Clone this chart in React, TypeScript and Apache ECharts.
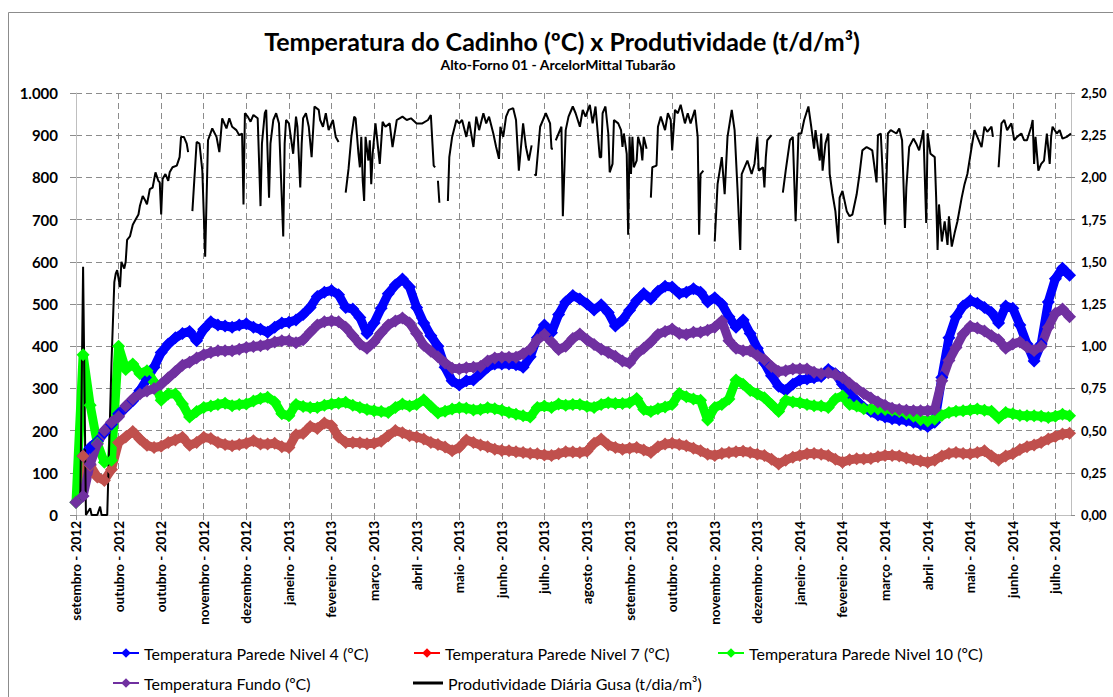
import React, { useEffect, useRef } from 'react';
import * as echarts from 'echarts';

// ---- axis / time base ----
const START_YEAR = 2012;
const START_MONTH = 8; // setembro (0-based)
const START_DAY = 1;
const NUM_DAYS = 702; // days 0..701
const LABEL_EVERY = 30; // Excel date axis: a label every 30 days
const MONTHS = ['janeiro', 'fevereiro', 'março', 'abril', 'maio', 'junho', 'julho', 'agosto', 'setembro', 'outubro', 'novembro', 'dezembro'];
const LEFT_TICKS = [0, 100, 200, 300, 400, 500, 600, 700, 800, 900, 1000];
const RIGHT_TICKS = [0, 0.25, 0.5, 0.75, 1, 1.25, 1.5, 1.75, 2, 2.25, 2.5];

// ---- temperature series, one reading every 5 days from day 0 ----
const TEMP_STEP = 5;
const nivel4 = [
  30, 140, 160, 175, 195, 215, 240, 255, 271, 295,
  322, 350, 385, 405, 420, 430, 435, 413, 440, 458,
  450, 448, 445, 450, 453, 445, 440, 433, 445, 455,
  457, 462, 475, 492, 518, 528, 532, 522, 492, 488,
  468, 430, 455, 490, 524, 545, 559, 540, 492, 455,
  425, 400, 350, 318, 308, 318, 320, 335, 350, 358,
  358, 358, 356, 350, 375, 420, 450, 432, 475, 505,
  520, 512, 500, 486, 498, 480, 448, 462, 485, 508,
  525, 512, 530, 542, 540, 525, 528, 536, 528, 505,
  515, 500, 470, 445, 462, 430, 395, 360, 330, 305,
  295, 310, 320, 322, 325, 328, 345, 335, 310, 288,
  270, 255, 245, 237, 232, 228, 226, 224, 220, 215,
  210, 220, 326, 420, 470, 495, 508, 502, 492, 480,
  455, 495, 490, 450, 405, 365, 405, 505, 560, 585,
  568,
];
const nivel7 = [
  30, 140, 118, 90, 82, 108, 172, 185, 198, 180,
  165, 160, 163, 172, 178, 184, 165, 172, 184, 181,
  172, 167, 164, 167, 170, 176, 168, 168, 170, 162,
  160, 190, 193, 210, 205, 218, 212, 185, 172, 172,
  171, 169, 170, 175, 188, 200, 195, 188, 185, 180,
  172, 167, 161, 152, 160, 178, 172, 166, 162, 156,
  153, 152, 150, 148, 146, 145, 142, 141, 145, 150,
  149, 148, 151, 170, 180, 166, 160, 156, 158, 160,
  154, 148, 162, 168, 170, 167, 164, 158, 152, 144,
  141, 146, 148, 150, 151, 148, 144, 141, 132, 121,
  130, 137, 141, 145, 146, 144, 141, 132, 125, 131,
  133, 133, 134, 138, 141, 141, 140, 135, 131, 128,
  125, 130, 140, 146, 148, 146, 145, 148, 152, 140,
  130, 140, 145, 155, 162, 166, 172, 180, 186, 192,
  194,
];
const nivel10 = [
  30, 380, 260, 170, 125, 130, 400, 345, 358, 335,
  342, 315, 272, 287, 287, 263, 232, 245, 255, 258,
  262, 265, 259, 262, 263, 270, 276, 279, 268, 240,
  235, 262, 257, 255, 255, 260, 263, 265, 267, 260,
  255, 250, 247, 245, 243, 255, 263, 258, 262, 273,
  257, 242, 246, 251, 254, 253, 249, 250, 254, 252,
  248, 243, 239, 235, 232, 255, 258, 255, 263, 260,
  262, 262, 257, 255, 262, 266, 264, 264, 266, 276,
  250, 245, 252, 256, 262, 288, 280, 275, 272, 225,
  255, 262, 275, 320, 310, 295, 287, 278, 262, 245,
  272, 268, 266, 262, 259, 258, 255, 275, 282, 262,
  258, 252, 251, 251, 250, 248, 245, 240, 234, 226,
  223, 227, 236, 243, 246, 247, 249, 251, 248, 246,
  230, 243, 240, 236, 235, 235, 234, 231, 234, 239,
  235,
];
const fundo = [
  30, 45, 120, 168, 200, 220, 233, 258, 275, 287,
  294, 300, 310, 325, 340, 355, 362, 372, 380, 385,
  389, 389, 389, 393, 397, 399, 401, 404, 410, 413,
  413, 408, 415, 433, 450, 458, 460, 458, 445, 425,
  405, 395, 410, 432, 450, 460, 467, 455, 430, 402,
  388, 375, 360, 348, 346, 349, 350, 352, 365, 372,
  374, 374, 374, 382, 392, 415, 428, 410, 392, 400,
  418, 429, 415, 404, 393, 385, 376, 365, 360, 382,
  395, 410, 428, 435, 441, 430, 428, 433, 433, 438,
  445, 460, 413, 395, 389, 389, 378, 368, 352, 340,
  342, 346, 346, 346, 338, 335, 337, 333, 326, 312,
  299, 288, 277, 268, 260, 253, 250, 248, 247, 247,
  247, 250, 318, 366, 397, 429, 447, 443, 436, 425,
  415, 395, 405, 410, 398, 390, 400, 445, 478, 488,
  470,
];

// ---- daily productivity [day, t/dia/m³]; null = no reading (line break) ----
const produtividade: [number, number | null][] = [
  [3, 0.08], [5, 1.47], [7, 0], [10, 0.04], [11, 0], [15, 0], [17, 0.05], [18, 0], [22, 0], [25, 0.9],
  [27, 1.38], [28, 1.43], [29, 1.45], [31, 1.35], [32, 1.5], [34, 1.46], [35, 1.5], [36, 1.63], [38, 1.65], [40, 1.72],
  [42, 1.75], [44, 1.78], [45, 1.83], [47, 1.89], [49, 1.86], [50, 1.84], [52, 1.93], [54, 1.94], [56, 2.03], [58, 1.98],
  [59, 1.97], [60, 1.78], [61, 1.99], [63, 2.02], [65, 1.98], [66, 2.03], [68, 2.06], [71, 2.07], [73, 2.12], [74, 2.24],
  [76, 2.24], [78, 2.2], [79, 2.15], [80, null],
  [82, 1.8], [85, 2.21], [87, 2.2], [89, 2.04], [91, 1.53], [93, 2.22], [96, 2.29], [99, 2.24], [101, 2.15], [103, 2.35],
  [106, 2.29], [108, 2.35], [110, 2.3], [113, 2.28], [115, 2.25], [117, 2.26], [118, 1.84], [119, 2.38], [121, 2.36], [123, 2.33],
  [125, 2.37], [128, 2.35], [130, 1.83], [131, 2.2], [133, 2.38], [134, 2.4], [136, 1.88], [137, 2.2], [139, 2.34], [141, 2.38],
  [143, 2.32], [146, 1.65], [147, 2.2], [148, 2.34], [150, 2.32], [153, 2.14], [155, 2.36], [156, 2.3], [158, 1.94], [159, 2.2],
  [160, 2.35], [162, 2.38], [164, 2.3], [166, 2.12], [168, 2.42], [171, 2.4], [172, 2.34], [174, 2.3], [176, 2.38], [178, 2.28],
  [181, 2.34], [183, 2.24], [185, 2.21], [187, null],
  [190, 1.91], [192, 2.05], [194, 2.24], [196, 2.36], [197, 2.35], [199, 2.14], [200, 2.06], [201, 2.24], [202, 1.98], [203, 1.86],
  [204, 2.24], [206, 2.1], [207, 2.22], [208, 1.96], [209, 2.14], [211, 2.32], [214, 2.08], [216, 2.33], [218, 2.3], [221, 2.32],
  [223, 2.18], [226, 2.34], [228, 2.35], [230, 2.36], [233, 2.34], [236, 2.35], [240, 2.32], [244, 2.32], [248, 2.34], [250, 2.37],
  [252, 2.07], [253, 2.06], [254, null], [255, 1.98], [256, 1.85], [258, null],
  [262, 1.86], [263, 2.12], [265, 2.24], [268, 2.34], [270, 2.32], [272, 2.34], [275, 2.24], [277, 2.33], [280, 2.18], [282, 2.36],
  [284, 2.28], [287, 2.38], [289, 2.32], [291, 2.36], [294, 2.26], [296, 2.18], [298, 2.11], [299, 2.3], [301, 2.24], [303, 2.36],
  [305, 2.4], [308, 2.41], [310, 2.34], [312, 2.04], [315, 2.32], [317, 2.18], [319, 2.1], [321, 2.19], [322, null],
  [323, 2.02], [324, 2.01], [327, 2.3], [329, 2.34], [331, 2.38], [334, 2.32], [335, 2.17], [336, 2.17], [337, null],
  [338, 2.22], [340, 2.26], [342, 2.3], [343, 1.77], [345, 2.28], [347, 2.36], [348, 2.38], [350, 2.42], [352, 2.38], [355, 2.3],
  [357, 2.4], [359, 2.36], [362, 2.43], [364, 2.32], [366, 2.42], [369, 2.12], [370, 2.12], [371, 2.38], [373, 2.42], [375, 2.26],
  [376, 2.03], [378, 2.08], [379, 2.34], [382, 2.32], [384, 2.28], [385, 2.18], [386, 2.26], [388, 2.14], [389, 1.66], [390, 2.24],
  [391, 2.02], [392, 2.24], [393, 2.06], [395, 2.1], [396, 2.24], [398, 2.18], [399, 2.1], [400, 2.24], [402, 2.17], [403, null],
  [405, 1.88], [406, 2.06], [409, 2.07], [410, 2.3], [412, 2.36], [415, 2.28], [417, 2.38], [419, 2.34], [420, 2.16], [422, 2.4],
  [424, 2.38], [426, 2.43], [429, 2.32], [431, 2.38], [433, 2.32], [436, 2.4], [438, 2.24], [439, 1.66], [440, 2.02], [442, 2.04],
  [444, null],
  [450, 1.62], [452, 1.96], [455, 2.12], [457, 1.9], [459, 2.24], [462, 2.4], [464, 2.28], [466, 1.94], [468, 1.57], [469, 2.02],
  [471, 2.06], [473, 2.1], [476, 2.02], [478, 2.08], [480, 2.24], [481, 2.04], [484, 2.06], [485, 1.94], [486, 2.12], [487, 2.22],
  [490, 2.25], [492, null],
  [498, 1.91], [500, 2.04], [503, 2.22], [505, 2.24], [507, 1.74], [509, 2.26], [511, 2.26], [513, 2.34], [516, 2.42], [518, 2.3],
  [520, 2.17], [521, 2.28], [524, 2.1], [525, 2.26], [526, 2.04], [528, 2.2], [530, 2.26], [531, 2.02], [533, 1.9], [535, 1.8],
  [537, 1.61], [538, 1.88], [540, 1.92], [543, 1.8], [545, 1.77], [547, 1.78], [550, 1.9], [552, 2.02], [554, 2.16], [557, 2.18],
  [559, 2.17], [561, 2.16], [564, 1.97], [565, 2.25], [567, 2.26], [570, 1.72], [572, 2.26], [574, 2.28], [578, 2.26], [580, 2.29],
  [582, 2.22], [584, 1.7], [585, 1.94], [587, 2.18], [590, 2.23], [592, 2.2], [594, 2.16], [597, 2.28], [599, 1.73], [600, 2.26],
  [602, 2.14], [605, 2.12], [606, 1.88], [607, 1.57], [608, 1.84], [610, 1.62], [612, 1.74], [614, 1.6], [615, 1.77], [617, 1.59],
  [619, 1.67], [621, 1.74], [624, 1.88], [626, 1.96], [628, 2.02], [631, 2.18], [633, 2.28], [635, 2.24], [638, 2.18], [640, 2.3],
  [642, 2.27], [645, 2.3], [646, 2.24], [648, null],
  [650, 2.06], [652, 2.32], [654, 2.34], [656, 2.28], [659, 2.32], [661, 2.22], [663, 2.24], [666, 2.26], [668, 2.22], [670, 2.22],
  [673, 2.3], [674, 2.34], [675, 2.08], [676, 2.24], [678, 2.04], [680, 2.08], [682, 2.1], [684, 2.26], [686, 2.08], [687, 2.24],
  [688, 2.3], [691, 2.26], [693, 2.28], [695, 2.23], [698, 2.24], [701, 2.26],
];

const SERIES_NAMES = [
  'Temperatura Parede Nivel 4 (ºC)',
  'Temperatura Parede Nivel 7 (ºC)',
  'Temperatura Parede Nivel 10 (ºC)',
  'Temperatura Fundo (ºC)',
  'Produtividade Diária Gusa (t/dia/m³)',
];

const FONT = 'Lato, "Open Sans", sans-serif';

function dayLabel(d: number): string {
  const dt = new Date(Date.UTC(START_YEAR, START_MONTH, START_DAY + d));
  return MONTHS[dt.getUTCMonth()] + ' - ' + dt.getUTCFullYear();
}

export default function App() {
  const ref = useRef<HTMLDivElement>(null);

  useEffect(() => {
    if (!ref.current) return;
    const chart = echarts.init(ref.current, undefined, { renderer: 'svg' });

    const categories = Array.from({ length: NUM_DAYS }, (_, d) => dayLabel(d));
    const showIdx = (i: number) => i % LABEL_EVERY === 0;
    const temp = (arr: number[]) => arr.map((v, i) => [i * TEMP_STEP, v]);

    const tempSeries = (name: string, data: number[], color: string, lineColor: string) => ({
      name,
      type: 'line',
      data: temp(data),
      symbol: 'diamond',
      symbolSize: 13,
      showSymbol: true,
      showAllSymbol: true,
      lineStyle: { color: lineColor, width: 9 },
      itemStyle: { color },
      emphasis: { disabled: true },
    });

    const legendBase = {
      orient: 'horizontal',
      padding: 0,
      itemWidth: 26,
      itemHeight: 12,
      selectedMode: false,
      textStyle: { fontFamily: FONT, fontSize: 16, color: '#000' },
      lineStyle: { width: 2 },
    };

    const option: any = {
      animation: false,
      backgroundColor: '#fff',
      graphic: [
        {
          type: 'rect',
          shape: { x: 8.5, y: 12.5, width: 1300, height: 900 },
          style: { fill: 'none', stroke: '#8C8C8C', lineWidth: 1 },
          silent: true,
        },
        {
          type: 'text',
          x: 562,
          y: 41,
          style: {
            text: 'Temperatura do Cadinho (ºC) x Produtividade (t/d/m³)',
            font: 'bold 25px ' + FONT,
            fill: '#000',
            align: 'center',
            verticalAlign: 'middle',
          },
        },
        {
          type: 'text',
          x: 558,
          y: 64,
          style: {
            text: 'Alto-Forno 01 - ArcelorMittal Tubarão',
            font: 'bold 14px ' + FONT,
            fill: '#000',
            align: 'center',
            verticalAlign: 'middle',
          },
        },
      ],
      legend: [
        { ...legendBase, left: 112, top: 645, data: [{ name: SERIES_NAMES[0] }] },
        { ...legendBase, left: 413, top: 645, data: [{ name: SERIES_NAMES[1], itemStyle: { color: '#FF0000' }, lineStyle: { color: '#FF0000', width: 2 } }] },
        { ...legendBase, left: 717, top: 645, data: [{ name: SERIES_NAMES[2] }] },
        { ...legendBase, left: 112, top: 675, data: [{ name: SERIES_NAMES[3] }] },
        {
          ...legendBase,
          left: 413,
          top: 675,
          itemHeight: 3,
          itemWidth: 30,
          data: [{ name: SERIES_NAMES[4], icon: 'rect', itemStyle: { color: '#000' } }],
        },
      ],
      grid: { left: 76, right: 42, top: 93, bottom: 182, containLabel: false },
      xAxis: {
        type: 'category',
        data: categories,
        boundaryGap: false,
        axisLine: { show: true, lineStyle: { color: '#BFBFBF', width: 1 } },
        axisTick: { show: true, interval: (i: number) => showIdx(i), length: 5, lineStyle: { color: '#8C8C8C' } },
        axisLabel: {
          interval: (i: number) => showIdx(i),
          rotate: 90,
          margin: 6,
          fontFamily: FONT,
          fontWeight: 'bold',
          fontSize: 13.5,
          color: '#000',
        },
        splitLine: {
          show: true,
          interval: (i: number) => showIdx(i),
          lineStyle: { type: [6, 4], color: '#8C8C8C', width: 1 },
        },
      },
      yAxis: [
        {
          type: 'value',
          position: 'left',
          min: LEFT_TICKS[0],
          max: LEFT_TICKS[LEFT_TICKS.length - 1],
          interval: LEFT_TICKS[1] - LEFT_TICKS[0],
          axisLine: { show: true, lineStyle: { color: '#BFBFBF' } },
          axisTick: { show: true, length: 6, lineStyle: { color: '#8C8C8C' } },
          axisLabel: {
            margin: 18,
            fontFamily: FONT,
            fontWeight: 'bold',
            fontSize: 15,
            color: '#000',
            formatter: (v: number) => (v >= 1000 ? v.toLocaleString('de-DE') : String(v)),
          },
          splitLine: { show: true, lineStyle: { type: [6, 4], color: '#8C8C8C', width: 1 } },
        },
        {
          type: 'value',
          position: 'right',
          min: RIGHT_TICKS[0],
          max: RIGHT_TICKS[RIGHT_TICKS.length - 1],
          interval: RIGHT_TICKS[1] - RIGHT_TICKS[0],
          axisLine: { show: true, lineStyle: { color: '#BFBFBF' } },
          axisTick: { show: true, length: 4, lineStyle: { color: '#8C8C8C' } },
          axisLabel: {
            margin: 10,
            fontFamily: FONT,
            fontWeight: 'bold',
            fontSize: 13,
            color: '#000',
            formatter: (v: number) => v.toFixed(2).replace('.', ','),
          },
          splitLine: { show: false },
        },
      ],
      series: [
        tempSeries(SERIES_NAMES[0], nivel4, '#0000FF', '#0000FF'),
        tempSeries(SERIES_NAMES[1], nivel7, '#C0504D', '#C0504D'),
        tempSeries(SERIES_NAMES[2], nivel10, '#00FF00', '#00FF00'),
        tempSeries(SERIES_NAMES[3], fundo, '#7030A0', '#7030A0'),
        {
          name: SERIES_NAMES[4],
          type: 'line',
          yAxisIndex: 1,
          data: produtividade.map(([d, v]) => [d, v === null ? '-' : v]),
          symbol: 'none',
          connectNulls: false,
          lineStyle: { color: '#000', width: 2 },
          itemStyle: { color: '#000' },
          emphasis: { disabled: true },
        },
      ],
    };

    chart.setOption(option);
    return () => chart.dispose();
  }, []);

  return <div ref={ref} style={{ position: 'fixed', left: 0, top: 0, width: 1113, height: 697 }} />;
}
